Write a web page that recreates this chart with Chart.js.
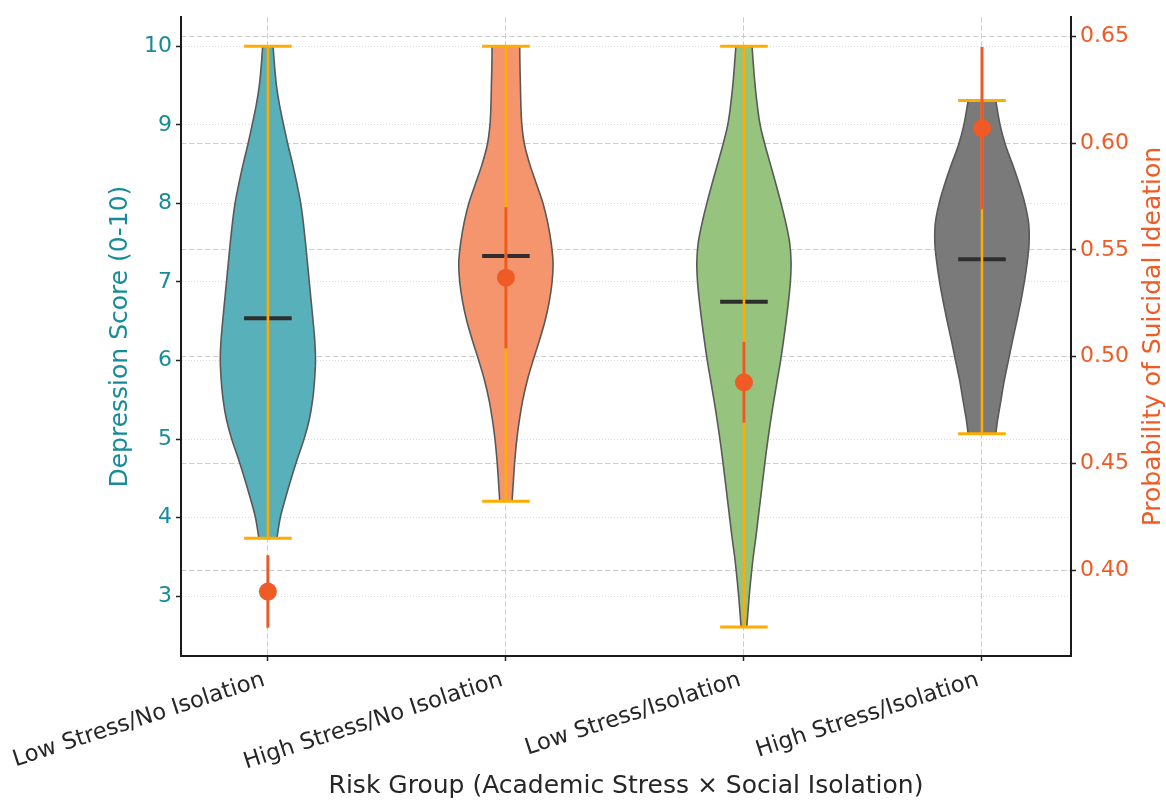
<!DOCTYPE html>
<html>
<head>
<meta charset="utf-8">
<script src="https://cdn.jsdelivr.net/npm/chart.js@4.4.0/dist/chart.umd.min.js"></script>
<style>
  html, body { margin: 0; padding: 0; background: #fff; }
  #chart { display: block; }
</style>
</head>
<body>
<canvas id="chart" width="1166" height="801"></canvas>
<script>
const groups = [
    'Low Stress/No Isolation',
    'High Stress/No Isolation',
    'Low Stress/Isolation',
    'High Stress/Isolation',
];
const depTicks = [3, 4, 5, 6, 7, 8, 9, 10];
const probTicks = [0.40, 0.45, 0.50, 0.55, 0.60, 0.65];

// violin outlines: score levels and relative half-width at each level
const levels1 = [3.74, 4.0, 4.25, 4.5, 4.75, 5.0, 5.25, 5.5, 5.75, 6.0, 6.25, 6.5, 6.75, 7.0, 7.25, 7.5, 7.75, 8.0, 8.25, 8.5, 8.75, 9.0, 9.25, 9.5, 9.75, 10.0];
const widths1 = [0.19, 0.26, 0.37, 0.49, 0.62, 0.76, 0.87, 0.94, 0.98, 1.0, 0.985, 0.95, 0.91, 0.87, 0.83, 0.79, 0.745, 0.69, 0.61, 0.52, 0.42, 0.33, 0.245, 0.18, 0.14, 0.11];
const levels2 = [4.21, 4.5, 4.75, 5.0, 5.25, 5.5, 5.75, 6.0, 6.25, 6.5, 6.75, 7.0, 7.25, 7.5, 7.75, 8.0, 8.25, 8.5, 8.75, 9.0, 9.25, 9.5, 9.75, 10.0];
const widths2 = [0.13, 0.16, 0.19, 0.23, 0.285, 0.355, 0.45, 0.57, 0.70, 0.82, 0.91, 0.97, 0.99, 0.95, 0.88, 0.78, 0.64, 0.50, 0.39, 0.335, 0.315, 0.305, 0.295, 0.29];
const levels3 = [2.61, 3.0, 3.25, 3.5, 3.75, 4.0, 4.25, 4.5, 4.75, 5.0, 5.25, 5.5, 5.75, 6.0, 6.25, 6.5, 6.75, 7.0, 7.25, 7.5, 7.75, 8.0, 8.25, 8.5, 8.75, 9.0, 9.25, 9.5, 9.75, 10.0];
const widths3 = [0.06, 0.11, 0.15, 0.195, 0.25, 0.30, 0.35, 0.40, 0.45, 0.505, 0.565, 0.63, 0.70, 0.77, 0.83, 0.885, 0.935, 0.975, 0.99, 0.96, 0.88, 0.78, 0.67, 0.555, 0.44, 0.34, 0.28, 0.235, 0.20, 0.17];
const levels4 = [5.07, 5.25, 5.5, 5.75, 6.0, 6.25, 6.5, 6.75, 7.0, 7.25, 7.5, 7.75, 8.0, 8.25, 8.5, 8.75, 9.0, 9.31];
const widths4 = [0.29, 0.33, 0.40, 0.47, 0.555, 0.64, 0.73, 0.815, 0.89, 0.95, 0.99, 0.98, 0.90, 0.78, 0.64, 0.49, 0.38, 0.29];

const depMin = [3.74, 4.21, 2.61, 5.07];
const depMax = [10.0, 10.0, 10.0, 9.31];
const depMedian = [6.54, 7.33, 6.75, 7.29];
const probMean = [0.390, 0.537, 0.488, 0.607];
const probErr = [0.017, 0.033, 0.019, 0.038];

const violinColors = ['#58b0bb', '#f4956e', '#96c37e', '#7a7a7a'];
const teal = '#168c99';
const red = '#f05a24';
const font = "'DejaVu Sans', sans-serif";
Chart.defaults.font.family = font;

const HALF = 0.2;   // max violin half-width in category units
const CAP = 0.1;

const violinLevels = [levels1, levels2, levels3, levels4];
const violinWidths = [widths1, widths2, widths3, widths4];

const datasets = [];

violinLevels.forEach((lv, i) => {
    const left = lv.map((v, k) => ({x: i - HALF * violinWidths[i][k], y: v}));
    const right = lv.map((v, k) => ({x: i + HALF * violinWidths[i][k], y: v})).reverse();
    const last = lv.length - 1;
    // repeat the corner points so the flat ends stay sharp under the curve tension
    const outline = [left[0], ...left, left[last], right[0], ...right, right[last], left[0]];
    datasets.push({
        type: 'line', yAxisID: 'y', order: 5,
        data: outline,
        backgroundColor: violinColors[i], borderColor: '#595959', borderWidth: 1.6,
        fill: 'shape', tension: 0.35, pointRadius: 0,
    });
});

const seg = (a, b, axis, color, width, order) => ({
    type: 'line', yAxisID: axis, order: order,
    data: [a, b], borderColor: color, borderWidth: width,
    fill: false, pointRadius: 0, tension: 0,
});

groups.forEach((g, i) => {
    datasets.push(seg({x: i - CAP, y: depMedian[i]}, {x: i + CAP, y: depMedian[i]}, 'y', '#2e2e2e', 4, 4));
    datasets.push(seg({x: i, y: depMin[i]}, {x: i, y: depMax[i]}, 'y', '#ffac00', 2.5, 3));
    datasets.push(seg({x: i - CAP, y: depMin[i]}, {x: i + CAP, y: depMin[i]}, 'y', '#ffac00', 3, 3));
    datasets.push(seg({x: i - CAP, y: depMax[i]}, {x: i + CAP, y: depMax[i]}, 'y', '#ffac00', 3, 3));
    datasets.push(seg({x: i, y: probMean[i] - probErr[i]}, {x: i, y: probMean[i] + probErr[i]}, 'y2', '#ec5a2c', 3, 2));
});

datasets.push({
    type: 'scatter', yAxisID: 'y2', order: 1,
    data: probMean.map((p, i) => ({x: i, y: p})),
    backgroundColor: red, pointRadius: 9, pointBorderWidth: 0,
});

const extraText = {
    id: 'extraText',
    afterDraw(chart) {
        const {ctx, scales: {x, y2}} = chart;
        ctx.save();
        ctx.font = '22.7px ' + font;
        ctx.fillStyle = '#262626';
        ctx.textAlign = 'right';
        ctx.textBaseline = 'alphabetic';
        groups.forEach((g, i) => {
            ctx.save();
            ctx.translate(x.getPixelForValue(i) - 2, x.top + 29);
            ctx.rotate(-18 * Math.PI / 180);
            ctx.fillText(g, 0, 0);
            ctx.restore();
        });
        ctx.font = '25px ' + font;
        ctx.fillStyle = red;
        ctx.textAlign = 'center';
        ctx.textBaseline = 'middle';
        ctx.translate(y2.right - 13, (y2.top + y2.bottom) / 2);
        ctx.rotate(-Math.PI / 2);
        ctx.fillText('Probability of Suicidal Ideation', 0, 0);
        ctx.restore();
    }
};

new Chart(document.getElementById('chart'), {
    data: {datasets: datasets},
    plugins: [extraText],
    options: {
        responsive: false,
        animation: false,
        devicePixelRatio: 1,
        layout: {padding: {top: 16, left: 0, right: 0, bottom: 0}},
        plugins: {legend: {display: false}, tooltip: {enabled: false}},
        scales: {
            x: {
                type: 'linear', position: 'bottom', min: -0.365, max: 3.374,
                afterBuildTicks: a => { a.ticks = groups.map((g, i) => ({value: i})); },
                afterFit: a => { a.height = 145; },
                ticks: {display: false},
                grid: {color: '#cccccc', lineWidth: 1, tickLength: 5, tickColor: '#222', tickWidth: 1.5, tickBorderDash: []},
                border: {color: '#1a1a1a', width: 2, dash: [5.5, 2.5]},
                title: {
                    display: true, text: 'Risk Group (Academic Stress × Social Isolation)',
                    color: '#262626', font: {size: 25, lineHeight: 1.2}, padding: {top: 0, bottom: 0},
                },
            },
            y: {
                type: 'linear', position: 'left', min: 2.24, max: 10.37,
                afterBuildTicks: a => { a.ticks = depTicks.map(v => ({value: v})); },
                afterFit: a => { a.width = 181; },
                ticks: {color: teal, font: {size: 22}, padding: 4},
                grid: {color: '#dcdcdc', lineWidth: 1, tickLength: 5, tickColor: '#222', tickWidth: 1.5, tickBorderDash: []},
                border: {color: '#1a1a1a', width: 2, dash: [1, 2]},
                title: {
                    display: true, text: 'Depression Score (0-10)',
                    color: teal, font: {size: 25, lineHeight: 1.2}, padding: {top: 105, bottom: 0},
                },
            },
            y2: {
                type: 'linear', position: 'right', min: 0.3598, max: 0.659,
                afterBuildTicks: a => { a.ticks = probTicks.map(v => ({value: v})); },
                afterFit: a => { a.width = 95; },
                ticks: {color: red, font: {size: 22}, padding: 4, callback: v => v.toFixed(2)},
                grid: {color: '#cccccc', lineWidth: 1, tickLength: 5, tickColor: '#222', tickWidth: 1.5, tickBorderDash: []},
                border: {color: '#1a1a1a', width: 2, dash: [5.5, 2.5]},
            },
        },
    },
});
</script>
</body>
</html>
